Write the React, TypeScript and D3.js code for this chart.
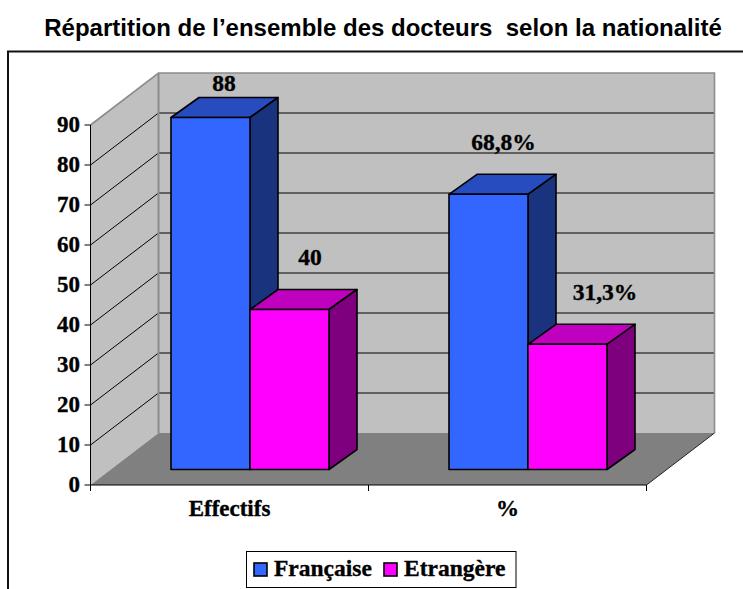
import React from "react";
import * as d3 from "d3";

const categories = ["Effectifs", "%"];
const seriesNames = ["Française", "Etrangère"];
const francaise = [88, 68.8];
const etrangere = [40, 31.3];
const dataLabels = [["88", "68,8%"], ["40", "31,3%"]];
const yTicks = [0, 10, 20, 30, 40, 50, 60, 70, 80, 90];
const title = "Répartition de l’ensemble des docteurs  selon la nationalité";

const labelNudge = [[{ dx: 13.5, dy: -27 }, { dx: 15, dy: -44 }], [{ dx: 20.5, dy: -45 }, { dx: 37.5, dy: -44 }]];
const colors = [
  { front: "#3366FF", top: "#264CBF", side: "#19337F" },
  { front: "#FF00FF", top: "#BF00BF", side: "#7F007F" },
];
const SERIF = "'Liberation Serif', serif";
const SANS = "'Liberation Sans', sans-serif";

const x0 = 90.5, x1 = 646.5, y0 = 485, y90 = 125;
const wallDx = 68, wallDy = -52;
const barDepthDx = 28, barDepthDy = -20;
const floorDy = -15.5;

const y = d3.scaleLinear().domain([0, 90]).range([y0, y90]);
const xCat = d3.scaleBand().domain(categories).range([x0, x1]);
const floorDx = 20.5;
const barWidth = 79;
const boldText = { stroke: "#000", strokeWidth: 0.35 };

function pts(p: number[][]) {
  return p.map((q) => q.join(",")).join(" ");
}

function Bar({ cat, series, value }: { cat: string; series: number; value: number }) {
  const c = colors[series];
  const center = xCat(cat)! + xCat.bandwidth() / 2 + floorDx;
  const l = center + (series - 1) * barWidth;
  const r = l + barWidth;
  const b = y(0) + floorDy;
  const t = y(value) + floorDy;
  const st = { stroke: "#000", strokeWidth: 1.6, strokeLinejoin: "round" as const };
  return (
    <g>
      <polygon points={pts([[l, t], [l + barDepthDx, t + barDepthDy], [r + barDepthDx, t + barDepthDy], [r, t]])} fill={c.top} {...st} />
      <polygon points={pts([[r, t], [r + barDepthDx, t + barDepthDy], [r + barDepthDx, b + barDepthDy], [r, b]])} fill={c.side} {...st} />
      <rect x={l} y={t} width={barWidth} height={b - t} fill={c.front} {...st} />
    </g>
  );
}

export default function App() {
  const bx0 = x0 + wallDx, bx1 = x1 + wallDx;
  const series = [francaise, etrangere];
  return (
    <svg width={743} height={589} style={{ position: "absolute", left: 0, top: 0, background: "#fff" }}>
      <text x={383} y={36} textAnchor="middle" fontFamily={SANS} fontWeight="bold" fontSize={24} style={{ whiteSpace: "pre" }}>{title}</text>
      <path d="M8,589V51.5H743" fill="none" stroke="#111" strokeWidth={2} />

      <polygon points={pts([[bx0, y(0) + wallDy], [bx1, y(0) + wallDy], [bx1, y(90) + wallDy], [bx0, y(90) + wallDy]])} fill="#C0C0C0" />
      <polygon points={pts([[x0, y(0)], [bx0, y(0) + wallDy], [bx0, y(90) + wallDy], [x0, y(90)]])} fill="#C0C0C0" />
      <polygon points={pts([[x0, y(0)], [x1, y(0)], [bx1, y(0) + wallDy], [bx0, y(0) + wallDy]])} fill="#808080" />

      {yTicks.slice(1, -1).map((v) => (
        <g key={v} stroke="#000" strokeWidth={1} fill="none">
          <line x1={bx0} x2={bx1} y1={y(v) + wallDy} y2={y(v) + wallDy} />
          <line x1={x0} x2={bx0} y1={y(v)} y2={y(v) + wallDy} />
        </g>
      ))}
      <path d={`M${x0},${y(90)}L${bx0},${y(90) + wallDy}H${bx1}V${y(0) + wallDy}`} fill="none" stroke="#8c8c8c" strokeWidth={1.6} />
      <line x1={bx0} x2={bx0} y1={y(90) + wallDy} y2={y(0) + wallDy} stroke="#8c8c8c" strokeWidth={2} />
      <line x1={x1} y1={y(0)} x2={bx1} y2={y(0) + wallDy} stroke="#222" strokeWidth={1} />

      <line x1={x0} x2={x0} y1={y(90)} y2={y(0)} stroke="#000" strokeWidth={1} />
      <line x1={x0} x2={x1} y1={y(0)} y2={y(0)} stroke="#000" strokeWidth={1} />
      {yTicks.map((v) => (
        <g key={v}>
          <line x1={x0 - 6} x2={x0} y1={y(v)} y2={y(v)} stroke="#000" />
          <text x={80} y={y(v) + 7} textAnchor="end" fontFamily={SERIF} fontWeight="bold" fontSize={23} {...boldText}>{v}</text>
        </g>
      ))}
      {[...categories.map((c) => xCat(c)!), x1].map((t, i) => (
        <line key={i} x1={t} x2={t} y1={y0} y2={y0 + 6} stroke="#000" />
      ))}
      {categories.map((c) => (
        <text key={c} x={xCat(c)! + xCat.bandwidth() / 2} y={516} textAnchor="middle" fontFamily={SERIF} fontWeight="bold" fontSize={23} {...boldText}>{c}</text>
      ))}

      {categories.map((c, i) => series.map((s, k) => <Bar key={c + k} cat={c} series={k} value={s[i]} />))}

      {categories.map((c, i) => series.map((s, k) => {
        const center = xCat(c)! + xCat.bandwidth() / 2 + floorDx;
        const l = center + (k - 1) * barWidth + barWidth / 2;
        const n = labelNudge[k][i];
        return (
          <text key={c + k} x={l + n.dx} y={y(s[i]) + floorDy + n.dy} textAnchor="middle" fontFamily={SERIF} fontWeight="bold" fontSize={23.5} {...boldText}>{dataLabels[k][i]}</text>
        );
      }))}

      <rect x={246.5} y={551.5} width={269.5} height={36} fill="#fff" stroke="#000" strokeWidth={1} />
      {seriesNames.map((n, i) => {
        const sx = [254, 384][i];
        return (
          <g key={n}>
            <rect x={sx} y={563} width={13} height={13} fill={colors[i].front} stroke="#000" strokeWidth={1.6} />
            <text x={sx + 20} y={576} fontFamily={SERIF} fontWeight="bold" fontSize={23.5} {...boldText}>{n}</text>
          </g>
        );
      })}
    </svg>
  );
}
